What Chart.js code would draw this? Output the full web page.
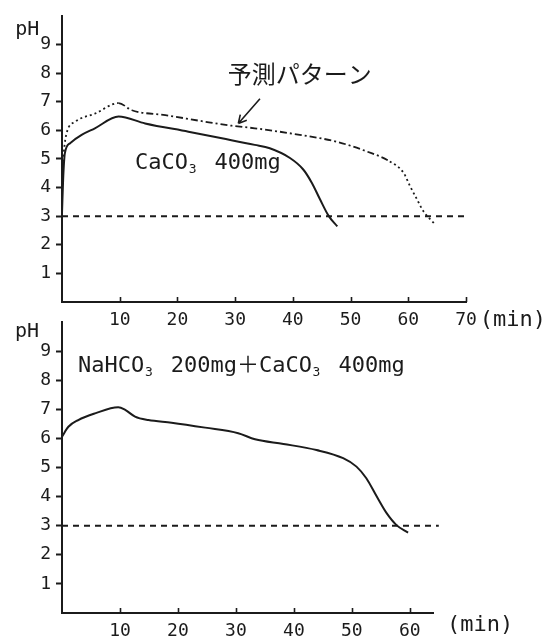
<!DOCTYPE html>
<html lang="ja">
<head>
<meta charset="utf-8">
<title>pH</title>
<script src="https://cdn.jsdelivr.net/npm/chart.js@4.4.1/dist/chart.umd.min.js"></script>
<style>
  html, body { margin: 0; padding: 0; background: #fff; }
  #wrap { position: relative; width: 554px; height: 637px; overflow: hidden; }
  canvas { position: absolute; left: 0; }
  #top-chart { top: 0; }
  #bottom-chart { top: 300px; }
</style>
</head>
<body>
<div id="wrap">
  <canvas id="top-chart" width="554" height="340"></canvas>
  <canvas id="bottom-chart" width="554" height="337"></canvas>
</div>
<script>
const INK = '#1b1b1b';
const MONO = "'DejaVu Sans Mono', 'Liberation Mono', 'Noto Sans CJK JP', monospace";
const CJK = "'Noto Sans CJK JP', sans-serif";

// ---- tick labels ----
const phTicks = [1, 2, 3, 4, 5, 6, 7, 8, 9];
const minTicksTop = [10, 20, 30, 40, 50, 60, 70];
const minTicksBottom = [10, 20, 30, 40, 50, 60];

// pH 3 reference line
const thresholdPH = 3;
const refSpanTop = [0, 70];
const refSpanBottom = [0, 65];

// CaCO3 400mg (measured)
const caTime = [0, 0.2, 0.5, 1.4, 3.4, 5.7, 9.8, 14.4, 21.9, 27.7, 33.4, 36, 39.5, 41.8, 43.3, 44.7, 46.2, 47.7];
const caPH   = [3.1, 4.3, 5.2, 5.55, 5.84, 6.07, 6.48, 6.24, 5.95, 5.72, 5.49, 5.37, 5.03, 4.63, 4.16, 3.59, 3.01, 2.64];

// predicted pattern
const predTime = [0, 0.3, 0.8, 2.3, 5.7, 9.8, 12.1, 17.9, 24.8, 29.4, 33.4, 41.2, 47.6, 52.8, 56.8, 59.2, 60.3, 61.5, 62.6, 64.6];
const predPH   = [4.2, 5.2, 5.9, 6.3, 6.58, 6.95, 6.7, 6.53, 6.3, 6.16, 6.07, 5.84, 5.6, 5.26, 4.91, 4.51, 4.05, 3.59, 3.18, 2.72];

// NaHCO3 200mg + CaCO3 400mg
const mixTime = [0, 1.1, 2.8, 5.7, 9.7, 10.9, 12.6, 14.9, 18.9, 24.7, 30.4, 33.3, 38.2, 43.9, 48.5, 50.8, 52.5, 54.3, 56, 57.7, 59.7];
const mixPH   = [6.06, 6.4, 6.63, 6.86, 7.07, 6.98, 6.75, 6.63, 6.54, 6.37, 6.18, 5.97, 5.81, 5.6, 5.32, 5.03, 4.63, 4.0, 3.43, 3.02, 2.76];

const pts = (xs, ys) => xs.map((x, i) => ({ x, y: ys[i] }));

// draws text, turning "₃" into a dropped small 3 that keeps a full mono cell
function drawFormula(ctx, text, x, y, size, family) {
    const cell = size * 0.602;
    text.split(/(₃)/).forEach(part => {
        if (!part) return;
        if (part === '₃') {
            ctx.font = `${Math.round(size * 0.6)}px ${MONO}`;
            ctx.fillText('3', x + cell * 0.05, y + size * 0.16);
            x += cell;
        } else {
            ctx.font = `${size}px ${family}`;
            ctx.fillText(part, x, y);
            x += ctx.measureText(part).width;
        }
    });
}

const notesPlugin = {
    id: 'notes',
    afterDraw(chart, args, opts) {
        const { ctx, chartArea } = chart;
        const sx = chart.scales.x, sy = chart.scales.y;
        ctx.save();
        ctx.fillStyle = INK;
        ctx.strokeStyle = INK;

        // short upward marks on the time axis
        ctx.lineWidth = 1.6;
        sx.ticks.forEach(t => {
            const px = Math.round(sx.getPixelForValue(t.value)) + 0.5;
            ctx.beginPath();
            ctx.moveTo(px, chartArea.bottom);
            ctx.lineTo(px, chartArea.bottom - 5);
            ctx.stroke();
        });

        (opts.texts || []).forEach(n => {
            ctx.textAlign = 'left';
            ctx.textBaseline = n.baseline || 'alphabetic';
            drawFormula(ctx, n.text, sx.getPixelForValue(n.at[0]), sy.getPixelForValue(n.at[1]),
                n.size, n.cjk ? CJK : MONO);
        });

        if (opts.arrow) {
            const tx = sx.getPixelForValue(opts.arrow.from[0]), ty = sy.getPixelForValue(opts.arrow.from[1]);
            const hx = sx.getPixelForValue(opts.arrow.to[0]), hy = sy.getPixelForValue(opts.arrow.to[1]);
            const ang = Math.atan2(hy - ty, hx - tx);
            ctx.lineWidth = 1.6;
            ctx.beginPath();
            ctx.moveTo(tx, ty);
            ctx.lineTo(hx, hy);
            [0.5, -0.5].forEach(d => {
                ctx.moveTo(hx, hy);
                ctx.lineTo(hx - 9 * Math.cos(ang + d), hy - 9 * Math.sin(ang + d));
            });
            ctx.stroke();
        }
        ctx.restore();
    }
};

function curve(data, extra) {
    return Object.assign({
        data,
        borderColor: INK,
        borderWidth: 2,
        pointRadius: 0,
        fill: false,
        cubicInterpolationMode: 'monotone'
    }, extra);
}

function refLine(span, extra) {
    return Object.assign({
        data: span.map(x => ({ x, y: thresholdPH })),
        borderColor: INK,
        borderWidth: 2,
        borderDash: [6, 5],
        pointRadius: 0,
        fill: false
    }, extra);
}

function makeChart(id, { datasets, xMax, xTicks, rightPad, topPad, xHeight, notes }) {
    return new Chart(document.getElementById(id), {
        type: 'line',
        data: { datasets },
        options: {
            responsive: false,
            animation: false,
            layout: { padding: { left: 0, top: topPad, right: rightPad, bottom: 0 } },
            plugins: { legend: { display: false }, tooltip: { enabled: false }, notes },
            scales: {
                x: {
                    type: 'linear',
                    min: 0,
                    max: xMax,
                    afterBuildTicks: s => { s.ticks = xTicks.map(v => ({ value: v })); },
                    afterFit: s => { s.height = xHeight; },
                    grid: { display: false, drawTicks: false },
                    border: { display: true, color: INK, width: 2 },
                    ticks: { color: INK, font: { family: MONO, size: 18 }, padding: 8, autoSkip: false, maxRotation: 0 }
                },
                y: {
                    min: 0,
                    max: 10,
                    afterBuildTicks: s => { s.ticks = phTicks.map(v => ({ value: v })); },
                    afterFit: s => { s.width = 62; },
                    grid: { display: true, drawOnChartArea: false, drawTicks: true, tickLength: 6, tickWidth: 2, tickColor: INK },
                    border: { display: true, color: INK, width: 2 },
                    ticks: { color: INK, font: { family: MONO, size: 18 }, padding: 5 }
                }
            }
        },
        plugins: [notesPlugin]
    });
}

// CaCO3 alone vs. predicted pattern
makeChart('top-chart', {
    xMax: 70,
    xTicks: minTicksTop,
    rightPad: 88,
    topPad: 13,
    xHeight: 38,
    datasets: [
        refLine(refSpanTop),
        curve(pts(predTime, predPH), {
            borderWidth: 1.8,
            segment: {
                borderDash: c => (c.p0.parsed.x < 9.8 || c.p0.parsed.x >= 56.8) ? [2, 3] : [7, 3, 2, 3]
            }
        }),
        curve(pts(caTime, caPH))
    ],
    notes: {
        texts: [
            { text: 'pH', at: [-8.1, 9.34], size: 20 },
            { text: '予測パターン', at: [28.7, 7.96], size: 24, cjk: true, baseline: 'middle' },
            { text: 'CaCO₃ 400mg', at: [12.65, 4.64], size: 22 },
            { text: '(min)', at: [72.4, -0.83], size: 22 }
        ],
        arrow: { from: [34.3, 7.1], to: [30.55, 6.24] }
    }
});

// NaHCO3 + CaCO3
makeChart('bottom-chart', {
    xMax: 64,
    xTicks: minTicksBottom,
    rightPad: 121,
    topPad: 22,
    xHeight: 24,
    datasets: [
        refLine(refSpanBottom, { clip: false }),
        curve(pts(mixTime, mixPH))
    ],
    notes: {
        texts: [
            { text: 'pH', at: [-8.1, 9.48], size: 20 },
            { text: 'NaHCO₃ 200mg＋CaCO₃ 400mg', at: [2.76, 8.28], size: 22 },
            { text: '(min)', at: [66.4, -0.62], size: 22 }
        ]
    }
});
</script>
</body>
</html>
